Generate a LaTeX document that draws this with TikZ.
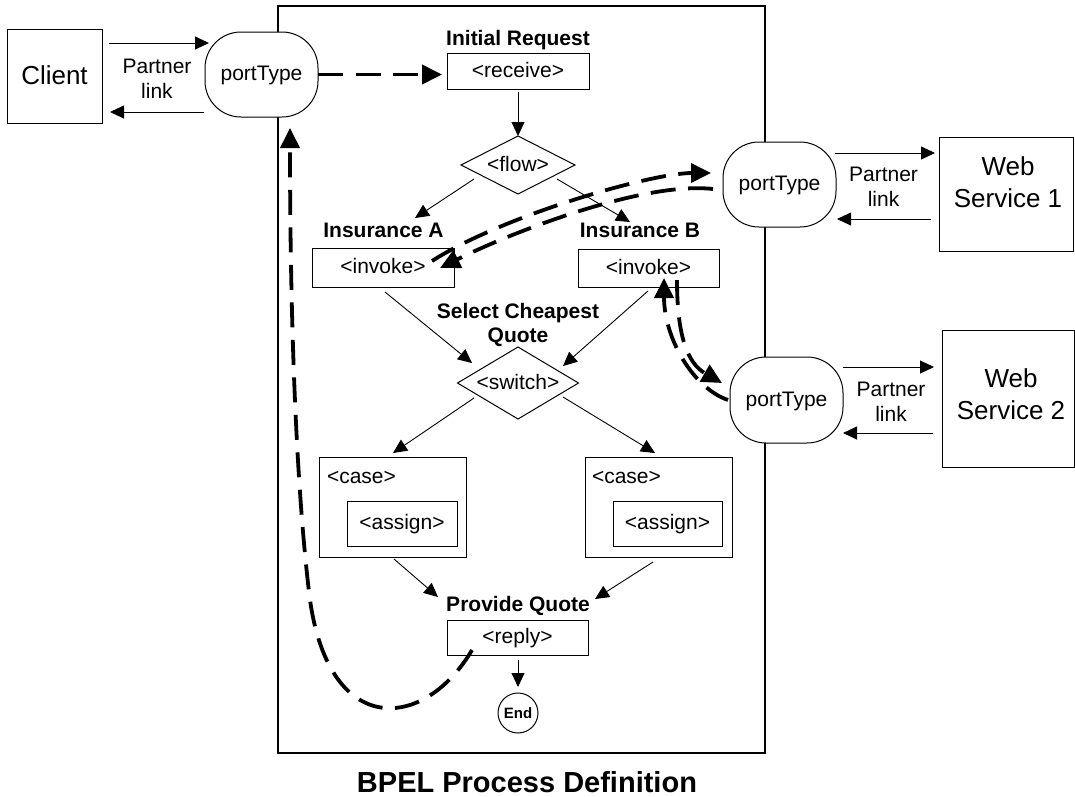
\documentclass[tikz,border=0pt]{standalone}
\usepackage{fontspec}
\setmainfont{Liberation Sans}
\usetikzlibrary{arrows.meta,calc,shapes.geometric}
\newcommand\fmid{\fontsize{21pt}{25pt}\selectfont}
\newcommand\fbig{\fontsize{26pt}{32pt}\selectfont}
\newcommand\fbold{\fontsize{21pt}{24pt}\selectfont\bfseries}
\newcommand\ftitle{\fontsize{29pt}{34pt}\selectfont\bfseries}
\newcommand\fend{\fontsize{15pt}{18pt}\selectfont\bfseries}
\begin{document}
\begin{tikzpicture}[x=1pt,y=-1pt,
  every node/.style={inner sep=0pt, outer sep=0pt},
  box/.style={draw, line width=1pt, fill=white},
  tag/.style={box, font=\fmid, text height=16pt, text depth=4pt},
  port/.style={draw, line width=1pt, fill=white, rounded corners=36pt,
    minimum width=113pt, minimum height=85pt, font=\fmid,
    text height=16pt, text depth=4pt},
  gate/.style={diamond, draw, line width=1pt, fill=white, font=\fmid,
    text height=16pt, text depth=4pt, shape aspect=1.8},
  lbl/.style={font=\fbold, anchor=base},
  plink/.style={font=\fmid, align=center},
  arr/.style={line width=0.9pt, -{Triangle[length=14pt,width=13pt]}},
  dasharr/.style={line width=3.8pt, dash pattern=on 25pt off 12.5pt,
    -{Triangle[length=20pt,width=19pt]}}]
\useasboundingbox (0,0) rectangle (1075,796);

% process frame
\node[draw, line width=1.2pt, minimum width=487pt, minimum height=747pt] (proc) at (521.5,379.5) {};

% client side
\node[box, font=\fbig, text height=20pt, text depth=4pt,
  minimum width=95pt, minimum height=94pt] (client) at (54.5,76) {Client};
\node[port] (ptC) at (261.5,74.5) {portType};
\node[plink] (plC) at (157,79) {Partner\\link};

% process steps
\node[lbl] (lblInit) at (518,45) {Initial Request};
\node[tag, minimum width=142pt, minimum height=36pt] (receive) at (518,71) {<receive>};
\node[gate, minimum width=114pt, minimum height=58pt] (flow) at (518,165) {<flow>};
\node[lbl] (lblA) at (383.5,237) {Insurance A};
\node[lbl] (lblB) at (640,237) {Insurance B};
\node[tag, minimum width=142pt, minimum height=39pt] (invA) at (383,267.5) {<invoke>};
\node[tag, minimum width=141pt, minimum height=38pt] (invB) at (648.5,268) {<invoke>};
\node[font=\fbold, align=center] (lblSel) at (518,325) {Select Cheapest\\Quote};
\node[gate, minimum width=121pt, minimum height=72pt] (switch) at (518,383) {<switch>};

\node[box, minimum width=147pt, minimum height=100pt] (caseL) at (392.5,507) {};
\node[font=\fmid, anchor=base west] (caseLt) at (327,483) {<case>};
\node[tag, minimum width=110pt, minimum height=45pt] (asgL) at (402,523.5) {<assign>};
\node[box, minimum width=147pt, minimum height=100pt] (caseR) at (658.5,507) {};
\node[font=\fmid, anchor=base west] (caseRt) at (592,483) {<case>};
\node[tag, minimum width=109pt, minimum height=45pt] (asgR) at (667.5,523.5) {<assign>};

\node[lbl] (lblPQ) at (518,611) {Provide Quote};
\node[tag, minimum width=141pt, minimum height=35pt] (reply) at (517.5,637.5) {<reply>};
\node[circle, draw, line width=1pt, minimum size=40pt, font=\fend] (End) at (518,713) {End};
\node[font=\ftitle, anchor=base] (title) at (527,792) {BPEL Process Definition};

% web services
\node[port] (ptW1) at (779.5,184.5) {portType};
\node[box, minimum width=134pt, minimum height=114pt] (WS1) at (1006,194) {};
\node[font=\fbig, align=center] (WS1t) at (1008,182.5) {Web\\Service 1};
\node[plink] (plW1) at (883.5,187) {Partner\\link};
\node[port, minimum height=86pt] (ptW2) at (786.5,400) {portType};
\node[box, minimum width=132pt, minimum height=137pt] (WS2) at (1008,398.5) {};
\node[font=\fbig, align=center] (WS2t) at (1011,394.5) {Web\\Service 2};
\node[plink] (plW2) at (891,402) {Partner\\link};

% partner links
\draw[arr] ($(client.north east)+(7,14)$) -- ($(ptC.north west)+(4,11)$);
\draw[arr] ($(ptC.south west)+(-1,-5)$) -- ($(client.south east)+(8,-11)$);
\draw[arr] ($(ptW1.north east)+(-1,11)$) -- ($(WS1.west)+(-4,-41)$);
\draw[arr] ($(WS1.west)+(-8,25)$) -- ($(ptW1.south east)+(1,-8)$);
\draw[arr] ($(ptW2.north east)+(0,10)$) -- ($(WS2.west)+(-8,-31.5)$);
\draw[arr] ($(WS2.west)+(-9,34.5)$) -- ($(ptW2.south east)+(0,-10)$);

% control flow
\draw[arr, shorten <=3pt] (receive.south) -- (flow.north);
\draw[arr] ($(flow.center)+(-44,14)$) -- ($(lblA.base)+(31.5,-19)$);
\draw[arr] ($(flow.center)+(39,14)$) -- ($(lblB.base)+(-10,-15)$);
\draw[arr] ($(invA.south)+(2,5)$) -- ($(switch.center)+(-46,-20)$);
\draw[arr] ($(invB.south)+(-0.5,4)$) -- ($(switch.center)+(45,-17)$);
\draw[arr] ($(switch.center)+(-44,15)$) -- ($(caseL.north)+(0.5,-4)$);
\draw[arr] ($(switch.center)+(45,14)$) -- ($(caseR.north)+(-3.5,-4)$);
\draw[arr] ($(caseL.south)+(1.5,2)$) -- ($(lblPQ.base)+(-80,-14)$);
\draw[arr] ($(caseR.south)+(-5.5,5)$) -- ($(lblPQ.base)+(77,-12)$);
\draw[arr] ($(reply.south)+(0.5,5)$) -- ($(End.north)+(0,-6)$);

% message flow
\draw[dasharr] (ptC.east) -- ($(receive.west)+(-5,3.5)$);
\draw[dasharr] ($(invA.east)+(-22,-6.5)$) .. controls +(70,-45) and +(-60,0) .. ($(ptW1.west)+(-12,-11.5)$);
\draw[dasharr] ($(ptW1.west)+(-10,4.5)$) .. controls +(-70,-8) and +(70,-35) .. ($(invA.east)+(-14,0.5)$);
\draw[dasharr] ($(invB.south)+(28.5,-7)$) .. controls +(0,55) and +(-35,-20) .. ($(ptW2.west)+(-8,-17)$);
\draw[dasharr] ($(ptW2.west)+(-2,0)$) .. controls +(-35,-12) and +(0,60) .. ($(invB.south)+(15.5,-9)$);
\draw[dasharr] ($(reply.south west)+(25,-5)$) .. controls (425,730) and (330,740) .. (310,600)
  .. controls (295,480) and (290,300) .. ($(ptC.south)+(28.5,11)$);
\end{tikzpicture}
\end{document}
